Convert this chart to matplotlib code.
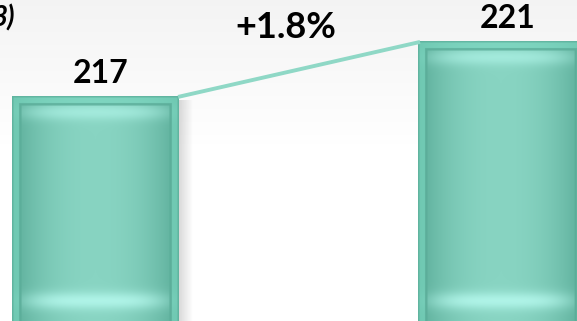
import numpy as np
import matplotlib
matplotlib.use("Agg")
import matplotlib.pyplot as plt
from matplotlib.colors import to_rgb

categories = ["Before", "After"]
values = [217, 221]
value_labels = ["217", "221"]
change_label = "+1.8%"
corner_text = "3)"

W, H = 577, 321
fig = plt.figure(figsize=(W / 100, H / 100), dpi=100)
ax = fig.add_axes([0, 0, 1, 1])
XL, YL = (-0.234, 1.187), (200.7, 224.05)
ax.set_xlim(*XL)
ax.set_ylim(*YL)
ax.axis("off")

# subtle grey background at top
t = np.linspace(0, 1, 100)[:, None]
shade = 0.955 + 0.045 * np.clip(t * 2.2, 0, 1)
bg = np.repeat(shade[:, :, None], 3, axis=2)
bg = np.repeat(bg, 2, axis=1)
ax.imshow(bg, extent=(XL[0], XL[1], YL[0], YL[1]), origin="upper",
          aspect="auto", zorder=0)

width = 0.409
x = np.arange(len(values))
bars = ax.bar(x, values, width=width, color="none", edgecolor="none", zorder=2)

base = np.array(to_rgb("#88d4c2"))
dark = np.array(to_rgb("#5aac98"))
light = np.array(to_rgb("#b8fbf0"))
frame = np.array(to_rgb("#78d4bd"))

def bar_image(nx, ny, px_w, px_h):
    u = np.linspace(0, 1, nx)[None, :]
    v = np.linspace(0, 1, ny)[:, None]  # 0 at top
    prof = np.abs(u - 0.5) * 2
    mix = np.clip(prof ** 2.2, 0, 1)
    img = base[None, None, :] * (1 - mix[..., None]) + dark[None, None, :] * mix[..., None]
    img = np.broadcast_to(img, (ny, nx, 3)).copy()
    ypx = v * px_h
    xpx = u * px_w
    top_hl = np.exp(-((ypx - 16) / 8.0) ** 2) * 0.55
    top_hl = top_hl * np.exp(-((xpx - px_w * 0.5) / (px_w * 0.45)) ** 4)
    img = img * (1 - top_hl[..., None]) + light * top_hl[..., None]
    bot_hl = np.exp(-((px_h - ypx - 20) / 9.0) ** 2) * 0.8
    bot_hl = bot_hl * np.exp(-((xpx - px_w * 0.5) / (px_w * 0.42)) ** 4)
    img = img * (1 - bot_hl[..., None]) + light * bot_hl[..., None]
    edge = (xpx < 8) | (xpx > px_w - 8) | (ypx < 8)
    edge = np.broadcast_to(edge, (ny, nx))
    img[edge] = frame * 0.7 + img[edge] * 0.3
    line = ((np.abs(xpx - 8) < 1.2) | (np.abs(xpx - (px_w - 8)) < 1.2)) & (ypx > 7)
    line = line | ((np.abs(ypx - 8) < 1.2) & (xpx > 7) & (xpx < px_w - 7))
    line = np.broadcast_to(line, (ny, nx))
    img[line] = dark * 0.8 + img[line] * 0.2
    outer = (xpx < 1.5) | (xpx > px_w - 1.5) | (ypx < 1.5)
    outer = np.broadcast_to(outer, (ny, nx))
    img[outer] = dark * 0.7 + img[outer] * 0.3
    return img

fig.canvas.draw()
for b in bars:
    x0 = b.get_x()
    x1 = x0 + b.get_width()
    top = b.get_height()
    bot = YL[0]
    p0 = ax.transData.transform((x0, bot))
    p1 = ax.transData.transform((x1, top))
    pw, ph = abs(p1[0] - p0[0]), abs(p1[1] - p0[1])
    img = bar_image(int(pw) * 2, int(ph) * 2, pw, ph)
    sh = np.ones((2, 40, 4))
    sh[..., :3] = 0.55
    sh[..., 3] = np.linspace(0.35, 0, 40)[None, :]
    sx = (x1 - x0) * 14 / pw
    ax.imshow(sh, extent=(x1, x1 + sx, bot, top - 0.25), aspect="auto", zorder=1)
    ax.imshow(img, extent=(x0, x1, bot, top), aspect="auto", zorder=2)

# connecting line
ax.plot([x[0] + width / 2, x[1] - width / 2 + 0.005], [values[0], values[1]],
        color="#8fd8c6", lw=2.8, zorder=3, solid_capstyle="butt")

fam = ["Lato", "DejaVu Sans"]
for xi, v, lab in zip(x, values, value_labels):
    ax.annotate(lab, (xi + 0.015, v), xytext=(0, 10), textcoords="offset points",
                ha="center", va="baseline", fontsize=23, fontweight="bold",
                family=fam, color="black", zorder=4)
ax.text(0.47, 221.3, change_label, ha="center", va="baseline", fontsize=26,
        fontweight="bold", family=fam, color="black", zorder=4)
ax.text(-0.195, 222.1, corner_text, ha="right", va="baseline", fontsize=20,
        fontweight="bold", style="italic", family=fam, color="black", zorder=4)

fig.savefig("out.png", dpi=100)
